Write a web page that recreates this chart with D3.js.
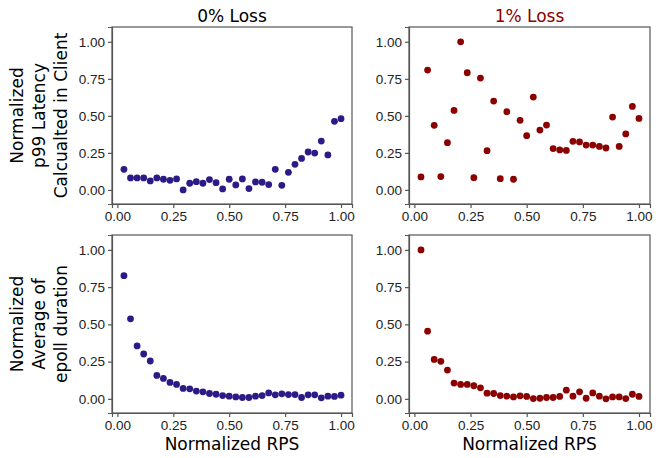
<!DOCTYPE html>
<html>
<head>
<meta charset="utf-8">
<script src="https://cdn.jsdelivr.net/npm/d3@7"></script>
<style>
  body { margin: 0; background: #fff; }
  svg { font-family: "DejaVu Sans", sans-serif; }
  .axis path, .axis line { stroke: #555; stroke-width: 1.2; }
  .axis text { font-size: 13.5px; fill: #222; }
</style>
</head>
<body>
<svg id="chart" width="656" height="458"></svg>
<script>
// x positions: normalized RPS (34 steps)
var rps = d3.range(1, 35).map(function(i) { return i / 34; });

var latency0 = [0.139, 0.081, 0.081, 0.081, 0.061, 0.081, 0.072, 0.065, 0.074, 0.0,
                0.045, 0.056, 0.045, 0.070, 0.049, 0.007, 0.072, 0.034, 0.074, 0.009,
                0.054, 0.052, 0.036, 0.139, 0.031, 0.119, 0.173, 0.213, 0.256, 0.249,
                0.330, 0.236, 0.463, 0.481];
var latency1 = [0.088, 0.809, 0.436, 0.090, 0.319, 0.537, 1.0, 0.791, 0.083, 0.755,
                0.265, 0.600, 0.076, 0.528, 0.072, 0.470, 0.366, 0.627, 0.404, 0.438,
                0.279, 0.270, 0.267, 0.328, 0.324, 0.303, 0.303, 0.294, 0.283, 0.492,
                0.294, 0.378, 0.564, 0.483];
var epoll0 = [0.827, 0.537, 0.355, 0.301, 0.254, 0.157, 0.137, 0.110, 0.097, 0.070,
              0.067, 0.052, 0.047, 0.036, 0.031, 0.022, 0.018, 0.013, 0.009, 0.009,
              0.018, 0.022, 0.040, 0.027, 0.034, 0.029, 0.029, 0.009, 0.027, 0.027,
              0.007, 0.018, 0.016, 0.025];
var epoll1 = [1.0, 0.454, 0.265, 0.252, 0.193, 0.106, 0.097, 0.097, 0.088, 0.074,
              0.038, 0.036, 0.022, 0.018, 0.013, 0.020, 0.016, 0.002, 0.004, 0.009,
              0.009, 0.016, 0.058, 0.018, 0.047, 0.004, 0.040, 0.018, 0.0, 0.013,
              0.013, 0.002, 0.031, 0.016];

var titles = ["0% Loss", "1% Loss"];
var yLabels = [["Normalized", "p99 Latency", "Calcualted in Client"],
               ["Normalized", "Average of", "epoll duration"]];
var xLabel = "Normalized RPS";
var ticks = [0, 0.25, 0.5, 0.75, 1.0];

var svg = d3.select("#chart");

var cols = [{x0: 112, x1: 352, color: "#2e1a87", titleColor: "#000"},
            {x0: 409, x1: 650, color: "#8b0000", titleColor: "#8b0000"}];
var rows = [{y0: 27, y1: 204}, {y0: 235, y1: 413}];

var panels = [
  {r: 0, c: 0, values: latency0},
  {r: 0, c: 1, values: latency1},
  {r: 1, c: 0, values: epoll0},
  {r: 1, c: 1, values: epoll1}
];

panels.forEach(function(p) {
  var col = cols[p.c], row = rows[p.r];
  var x = d3.scaleLinear().domain([-0.024, 1.049]).range([col.x0, col.x1]);
  var y = d3.scaleLinear().domain([-0.095, 1.1]).range([row.y1, row.y0]);
  var g = svg.append("g");

  g.append("g").attr("class", "axis")
    .attr("transform", "translate(0," + row.y1 + ")")
    .call(d3.axisBottom(x).tickValues(ticks).tickFormat(d3.format(".2f")).tickSizeOuter(0).tickSize(4).tickPadding(3));
  g.append("g").attr("class", "axis")
    .attr("transform", "translate(" + col.x0 + ",0)")
    .call(d3.axisLeft(y).tickValues(ticks).tickFormat(d3.format(".2f")).tickSizeOuter(0).tickSize(4).tickPadding(3));

  g.append("rect")
    .attr("x", col.x0).attr("y", row.y0)
    .attr("width", col.x1 - col.x0).attr("height", row.y1 - row.y0)
    .attr("fill", "none").attr("stroke", "#555").attr("stroke-width", 1.2);

  g.selectAll("circle")
    .data(p.values)
    .enter().append("circle")
    .attr("cx", function(d, i) { return x(rps[i]); })
    .attr("cy", function(d) { return y(d); })
    .attr("r", 3.4)
    .attr("fill", col.color);

  if (p.r === 0) {
    svg.append("text")
      .attr("x", (col.x0 + col.x1) / 2).attr("y", 22)
      .attr("text-anchor", "middle")
      .attr("font-size", 17)
      .attr("fill", col.titleColor)
      .text(titles[p.c]);
  }
  if (p.r === 1) {
    svg.append("text")
      .attr("x", (col.x0 + col.x1) / 2).attr("y", 450)
      .attr("text-anchor", "middle")
      .attr("font-size", 17)
      .text(xLabel);
  }
  if (p.c === 0) {
    var cy = (row.y0 + row.y1) / 2;
    var lab = svg.append("text")
      .attr("transform", "translate(0," + cy + ") rotate(-90)")
      .attr("text-anchor", "middle")
      .attr("font-size", 17);
    yLabels[p.r].forEach(function(s, i) {
      lab.append("tspan").attr("x", 0).attr("y", 23 + i * 22).text(s);
    });
  }
});
</script>
</body>
</html>
